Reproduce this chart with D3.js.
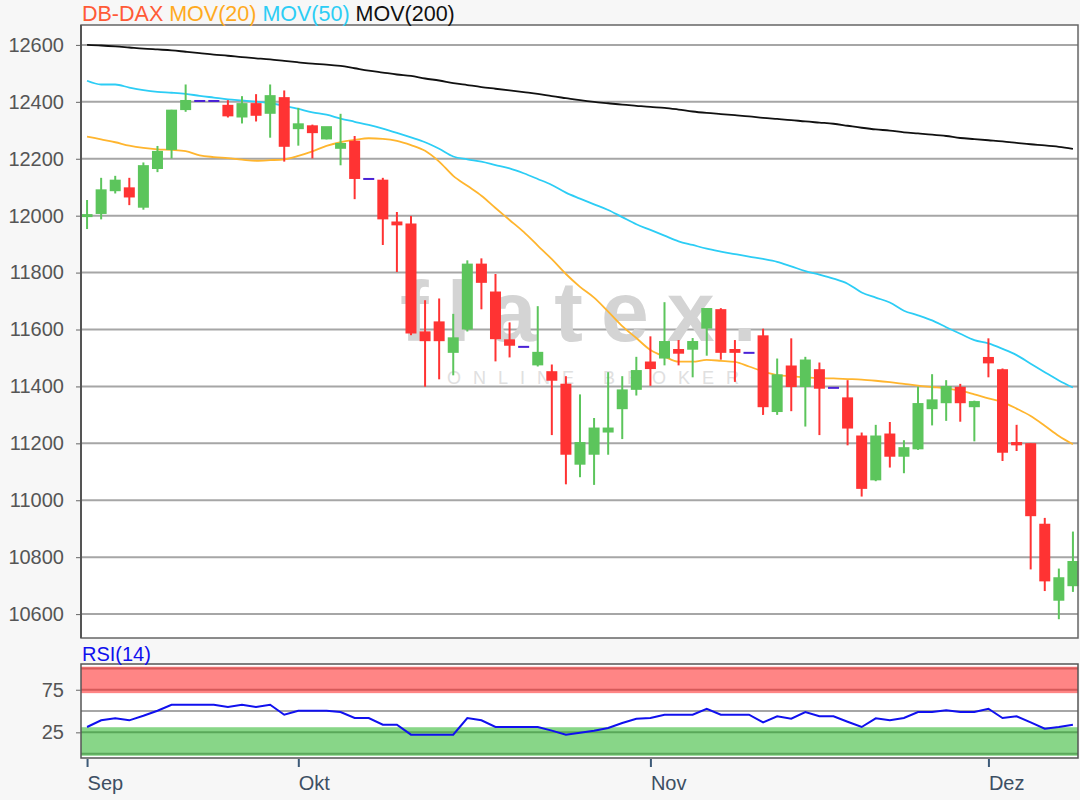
<!DOCTYPE html>
<html><head><meta charset="utf-8">
<script src="https://cdn.jsdelivr.net/npm/d3@7"></script>
<style>
html,body{margin:0;padding:0;background:#f7f7f7;}
svg{display:block;font-family:Arial,"Liberation Sans",sans-serif;}
</style></head>
<body>
<svg id="c" width="1080" height="800"></svg>
<script>
// ---- data ----
const opens  = [11995,12006,12086,12096,12028,12164,12231,12371,12403,12403,12386,12345,12392,12358,12413,12304,12314,12268,12235,12260,12129,12123,11976,11969,11590,11625,11518,11600,11828,11730,11562,11539,11474,11450,11406,11125,11160,11238,11320,11388,11484,11498,11528,11529,11603,11668,11528,11518,11576,11310,11470,11398,11457,11395,11358,11224,11070,11231,11153,11179,11320,11341,11395,11327,11500,11457,11201,11197,10914,10647,10698];
const highs  = [12055,12133,12140,12133,12187,12245,12372,12461,12403,12403,12406,12420,12427,12461,12440,12379,12320,12311,12358,12280,12129,12133,12013,11999,11703,11709,11655,11843,11850,11795,11625,11539,11682,11477,11436,11372,11289,11450,11436,11504,11576,11696,11563,11570,11675,11675,11563,11518,11603,11498,11569,11504,11484,11395,11422,11238,11265,11275,11211,11399,11443,11422,11409,11350,11569,11463,11265,11200,10938,10760,10890];
const lows   = [11953,11987,12078,12037,12021,12153,12201,12365,12403,12403,12345,12324,12331,12274,12190,12246,12201,12268,12177,12058,12129,11897,11802,11580,11399,11425,11439,11593,11671,11488,11502,11539,11470,11229,11056,11081,11054,11160,11215,11368,11402,11474,11474,11432,11508,11494,11416,11518,11300,11300,11313,11259,11229,11395,11193,11013,11067,11115,11095,11177,11263,11279,11276,11207,11432,11138,11173,10757,10681,10582,10678];
const closes = [12002,12089,12123,12064,12174,12224,12369,12403,12403,12403,12349,12392,12351,12420,12242,12321,12290,12311,12252,12129,12129,11987,11966,11586,11559,11559,11569,11828,11764,11566,11543,11539,11518,11420,11160,11201,11252,11252,11386,11454,11461,11556,11515,11556,11672,11518,11518,11518,11327,11439,11398,11491,11392,11395,11252,11040,11224,11153,11183,11338,11351,11398,11341,11345,11481,11167,11193,10944,10715,10726,10783];
const mov20  = [12278,12268,12258,12246,12238,12233,12231,12227,12212,12206,12202,12197,12193,12195,12198,12210,12226,12245,12258,12266,12272,12270,12263,12248,12228,12190,12140,12105,12070,12027,11985,11943,11895,11847,11795,11750,11712,11663,11612,11570,11528,11505,11487,11487,11493,11490,11486,11470,11453,11440,11436,11432,11429,11428,11426,11424,11420,11415,11409,11403,11398,11393,11385,11372,11358,11345,11322,11296,11262,11226,11197];
const mov50  = [12474,12461,12461,12450,12441,12435,12432,12428,12421,12415,12409,12405,12401,12395,12386,12375,12363,12355,12341,12330,12319,12306,12291,12275,12258,12235,12208,12198,12190,12178,12166,12149,12129,12108,12081,12060,12040,12020,11995,11970,11950,11930,11910,11897,11884,11874,11865,11856,11848,11838,11822,11805,11793,11779,11761,11730,11712,11695,11666,11650,11632,11608,11585,11563,11551,11532,11510,11480,11450,11421,11396];
const mov200 = [12600,12598,12595,12591,12587,12584,12581,12576,12571,12566,12562,12557,12553,12549,12544,12539,12534,12531,12526,12518,12510,12503,12496,12491,12482,12475,12466,12459,12452,12446,12440,12434,12428,12420,12413,12406,12400,12395,12390,12386,12382,12379,12373,12366,12361,12357,12353,12349,12344,12340,12336,12331,12327,12323,12316,12309,12303,12299,12293,12289,12285,12280,12273,12269,12265,12261,12256,12251,12247,12242,12235];
const rsi14  = [31.3,39.1,41.4,39.1,44.5,50.4,57.4,57.4,57.4,57.4,54.7,57.4,54.7,57.4,45.7,50.4,50.4,50.4,48.8,41.8,41.8,34.0,34.0,22.3,22.3,22.3,22.3,41.8,39.1,31.3,31.3,31.3,31.3,27.0,22.3,24.5,27.0,30.1,36.0,41.0,41.8,45.7,45.7,45.7,52.7,45.7,45.7,45.7,36.7,43.8,41.0,48.8,43.8,43.8,37.5,31.3,41.4,39.1,41.8,48.8,48.8,50.8,48.8,48.8,52.7,41.8,43.8,36.7,29.3,31.3,34.0];
const priceTicks = [10600,10800,11000,11200,11400,11600,11800,12000,12200,12400,12600];
const rsiGrid = [0,25,50,75,100];
const rsiTickLabels = [25,75];
const monthLabels = ["Sep","Okt","Nov","Dez"];
const monthIndex  = [0,15,40,64];
const legendNames = ["DB-DAX","MOV(20)","MOV(50)","MOV(200)"];
const legendColors = ["#ff5a36","#ffaa1e","#2ccdf5","#111111"];

// ---- layout ----
const L = 81, R = 1078, T = 25, B = 638, RT = 664, RB = 758;
const FONT = "Arial, Liberation Sans, sans-serif";
const svg = d3.select("#c");
const n = opens.length;
const x = d3.scaleLinear().domain([-0.43, n - 0.64]).range([L, R]);
const y = d3.scaleLinear().domain([10516, 12670]).range([B, T]);
const yr = d3.scaleLinear().domain([-5.1, 105.2]).range([RB, RT]);

const GREEN = "#5cc55c", RED = "#ff3333", FLAT = "#4a22d6", GRID = "#a6a6a6";

// main panel background
svg.append("rect").attr("x", L).attr("y", T).attr("width", R - L).attr("height", B - T).attr("fill", "#fff");

// grid
svg.append("g").selectAll("line").data(priceTicks).join("line")
  .attr("x1", L).attr("x2", R).attr("y1", d => y(d)).attr("y2", d => y(d))
  .attr("stroke", GRID).attr("stroke-width", 2);

// watermark
svg.append("text").attr("x", 400).attr("y", 341)
  .attr("font-size", 86).attr("font-weight", "bold").attr("fill", "#d4d4d4")
  .attr("letter-spacing", 18).text("flatex.");
svg.append("text").attr("x", 447).attr("y", 384)
  .attr("font-size", 18).attr("fill", "#e0e0e0").attr("letter-spacing", 12).text("ONLINE BROKER");

// y axis
const yAxis = d3.axisLeft(y).tickValues(priceTicks).tickSize(5).tickPadding(12).tickFormat(d3.format("d"));
const ya = svg.append("g").attr("transform", `translate(${L},0)`).call(yAxis);
ya.select(".domain").remove();
ya.selectAll("line").attr("stroke", "#666");
ya.selectAll("text").attr("font-size", 20).attr("fill", "#555").attr("font-family", FONT);

// moving averages
const line = arr => d3.line().x((d, i) => x(i)).y(d => y(d)).curve(d3.curveMonotoneX)(arr);
svg.append("path").attr("d", line(mov200)).attr("fill", "none").attr("stroke", "#111").attr("stroke-width", 1.8);
svg.append("path").attr("d", line(mov50)).attr("fill", "none").attr("stroke", "#2ccdf5").attr("stroke-width", 1.8);
svg.append("path").attr("d", line(mov20)).attr("fill", "none").attr("stroke", "#ffb52e").attr("stroke-width", 1.8);

// candles
const idx = d3.range(n);
const col = i => closes[i] > opens[i] ? GREEN : (closes[i] < opens[i] ? RED : FLAT);
const cg = svg.append("g");
cg.selectAll("line.w").data(idx.filter(i => highs[i] !== lows[i])).join("line").attr("class", "w")
  .attr("x1", i => x(i)).attr("x2", i => x(i))
  .attr("y1", i => y(highs[i])).attr("y2", i => y(lows[i]))
  .attr("stroke", col).attr("stroke-width", 2);
const bw = 11;
cg.selectAll("rect").data(idx).join("rect")
  .attr("x", i => x(i) - bw / 2)
  .attr("width", bw)
  .attr("y", i => Math.min(y(opens[i]), y(closes[i])) - 1)
  .attr("height", i => Math.max(2, Math.abs(y(opens[i]) - y(closes[i])) + 1))
  .attr("fill", col);

// main frame
svg.append("rect").attr("x", L).attr("y", T).attr("width", R - L).attr("height", B - T)
  .attr("fill", "none").attr("stroke", "#666").attr("stroke-width", 1.5);
svg.append("line").attr("x1", L).attr("x2", L).attr("y1", T).attr("y2", B).attr("stroke", "#555").attr("stroke-width", 2);

// legend
const lg = svg.append("text").attr("x", L + 1).attr("y", 21).attr("font-size", 21.5);
legendNames.forEach((t, k) => lg.append("tspan").attr("fill", legendColors[k]).text((k ? " " : "") + t));

// RSI panel
svg.append("rect").attr("x", L).attr("y", RT).attr("width", R - L).attr("height", RB - RT).attr("fill", "#fff");
svg.append("rect").attr("x", L).attr("y", yr(102)).attr("width", R - L).attr("height", yr(71) - yr(102)).attr("fill", "#ff8585");
svg.append("rect").attr("x", L).attr("y", yr(31)).attr("width", R - L).attr("height", yr(-2.5) - yr(31)).attr("fill", "#88d688");
svg.append("g").selectAll("line").data(rsiGrid).join("line")
  .attr("x1", L).attr("x2", R).attr("y1", d => yr(d)).attr("y2", d => yr(d))
  .attr("stroke", d => d === 50 ? GRID : (d > 50 ? "#d65a5a" : "#5aa85a")).attr("stroke-width", 2);
svg.append("path").attr("d", d3.line().x((d, i) => x(i)).y(d => yr(d))(rsi14))
  .attr("fill", "none").attr("stroke", "#1010ee").attr("stroke-width", 2);
svg.append("rect").attr("x", L).attr("y", RT).attr("width", R - L).attr("height", RB - RT)
  .attr("fill", "none").attr("stroke", "#555").attr("stroke-width", 1.5);
const ra = svg.append("g").attr("transform", `translate(${L},0)`)
  .call(d3.axisLeft(yr).tickValues(rsiTickLabels).tickSize(5).tickPadding(12));
ra.select(".domain").remove();
ra.selectAll("line").attr("stroke", "#666");
ra.selectAll("text").attr("font-size", 20).attr("fill", "#555").attr("font-family", FONT);
svg.append("text").attr("x", L + 1).attr("y", 661).attr("font-size", 20).attr("fill", "#1010ee").text("RSI(14)");

// x axis
const xa = svg.append("g").attr("transform", `translate(0,${RB + 1})`)
  .call(d3.axisBottom(x).tickValues(monthIndex).tickSize(8).tickPadding(9).tickFormat((d, k) => monthLabels[k]));
xa.select(".domain").remove();
xa.selectAll("line").attr("stroke", "#3d5a78").attr("stroke-width", 2);
xa.selectAll("text").attr("text-anchor", "start").attr("font-size", 20).attr("fill", "#3d4f63")
  .attr("font-family", FONT);
</script>
</body></html>
